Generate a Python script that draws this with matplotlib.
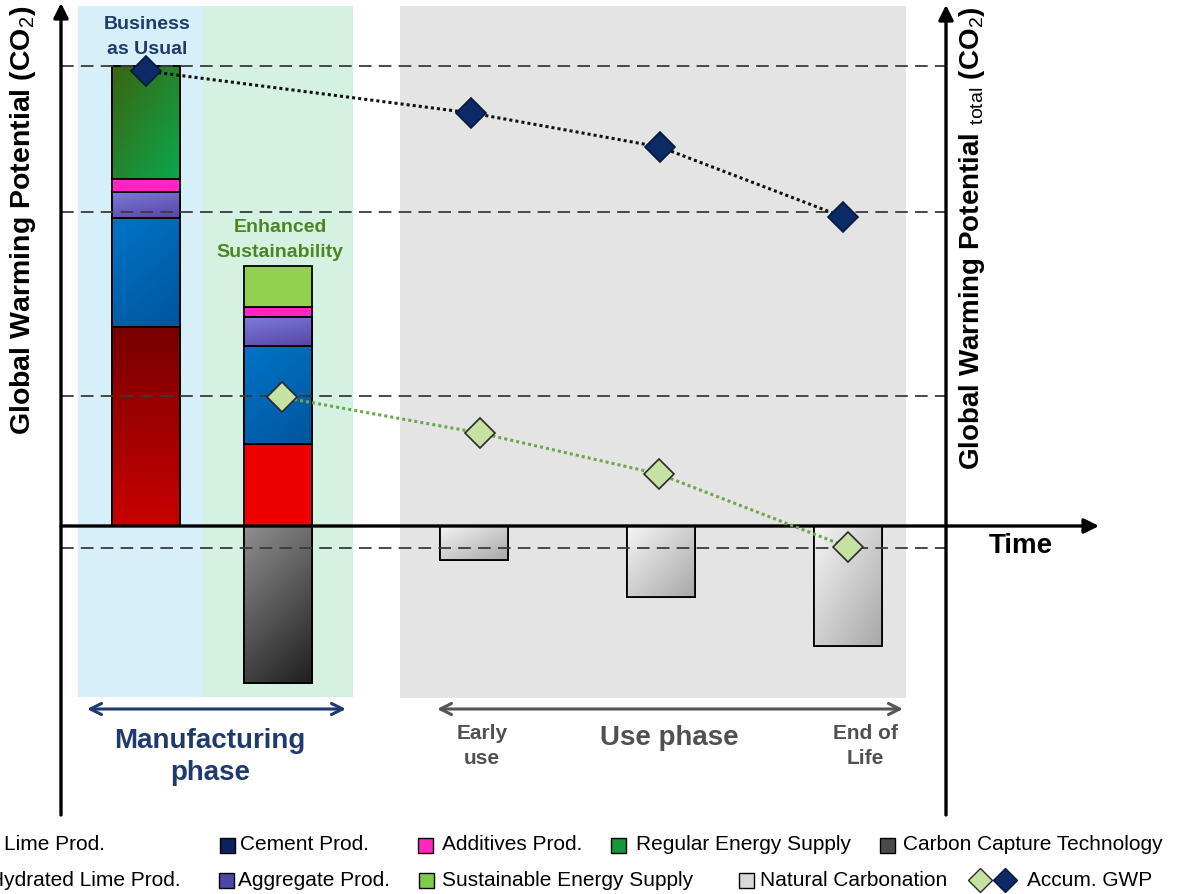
import numpy as np
import matplotlib.pyplot as plt
from matplotlib.colors import to_rgb
from matplotlib.patches import Rectangle
from matplotlib.transforms import Affine2D

plt.rcParams['font.family'] = ['Liberation Sans', 'DejaVu Sans']
plt.rcParams['mathtext.fontset'] = 'custom'
plt.rcParams['mathtext.rm'] = 'Liberation Sans'
plt.rcParams['mathtext.bf'] = 'Liberation Sans:bold'

# GWP contributions (relative units, business-as-usual total = 100)
bau_labels = ["Lime Prod.", "Cement Prod.", "Aggregate Prod.", "Additives Prod.", "Regular Energy Supply"]
bau_values = [43.2, 23.7, 5.7, 2.8, 24.6]
es_labels = ["Hydrated Lime Prod.", "Cement Prod.", "Aggregate Prod.", "Additives Prod.", "Sustainable Energy Supply"]
es_values = [17.8, 21.3, 6.3, 2.2, 8.9]
capture_value = -34.1
carbonation_stages = ["Early use", "Mid use", "End of Life"]
carbonation_values = [-7.4, -15.4, -26.1]
accum_bau = [98.9, 89.8, 82.4, 67.2]
accum_es = [28.0, 20.2, 11.3, -4.6]
reference_levels = [100.0, 68.3, 28.3, -4.8]

W, H = 1193, 894
Y0 = 526      # pixel row of the time axis
PX = 4.6      # pixels per GWP unit

fig = plt.figure(figsize=(W / 100, H / 100), dpi=100)
ax = fig.add_axes([0, 0, 1, 1])
ax.axis('off')
# top-left pixel coordinates for annotations and layout
pix = Affine2D().scale(1 / W, -1 / H).translate(0, 1) + fig.transFigure

# phase backgrounds
ax.add_patch(Rectangle((78, 6), 125, 691, transform=pix, fc='#d6eff9', ec='none', zorder=0))
ax.add_patch(Rectangle((203, 6), 150, 691, transform=pix, fc='#d5f1e1', ec='none', zorder=0))
ax.add_patch(Rectangle((400, 6), 506, 692, transform=pix, fc='#e4e4e4', ec='none', zorder=0))


def shade(bar, c_top, c_bottom, tilt=0.35):
    """Overlay a gradient on a bar and redraw its outline."""
    x0, y0 = bar.get_x(), bar.get_y()
    w, h = bar.get_width(), bar.get_height()
    u, v = np.meshgrid(np.linspace(0, 1, 60), np.linspace(0, 1, 60))
    t = tilt * u + (1 - tilt) * v
    c0, c1 = np.array(to_rgb(c_top)), np.array(to_rgb(c_bottom))
    img = c0 + t[..., None] * (c1 - c0)
    ax.imshow(img, extent=(x0, x0 + w, min(y0, y0 + h), max(y0, y0 + h)),
              origin='upper', aspect='auto', interpolation='bilinear', zorder=2.1)
    ax.add_patch(Rectangle((x0, y0), w, h, fill=False, ec='black', lw=1.3, zorder=2.2))


bar_w = 68
x_bau, x_es = 146, 278
carb_x = [474, 661, 848]

bau_colors = ['#a00000', '#0068b8', '#6a60c0', '#ff25c0', '#1e8a30']
es_colors = ['#ee0000', '#0068b8', '#6a60c0', '#ff25c0', '#92d050']
bau_shades = [('#780000', '#c80000', 0.0), ('#0074c8', '#00559c', 0.35),
              ('#7c7cd8', '#5844a6', 0.3), None, ('#3b6410', '#0aa84c', 0.5)]
es_shades = [None, ('#0074c8', '#00559c', 0.35), ('#7c7cd8', '#5844a6', 0.3), None, None]

bau_bottoms = np.concatenate([[0], np.cumsum(bau_values)[:-1]])
bau_bars = ax.bar([x_bau] * len(bau_values), bau_values, bottom=bau_bottoms, width=bar_w,
                  color=bau_colors, edgecolor='black', lw=1.3, zorder=2)
es_bottoms = np.concatenate([[0], np.cumsum(es_values)[:-1]])
es_bars = ax.bar([x_es] * len(es_values), es_values, bottom=es_bottoms, width=bar_w,
                 color=es_colors, edgecolor='black', lw=1.3, zorder=2)
for bars, shades in ((bau_bars, bau_shades), (es_bars, es_shades)):
    for bar, sh in zip(bars, shades):
        if sh:
            shade(bar, *sh)

cap_bar = ax.bar([x_es], [capture_value], width=bar_w, color='#555555',
                 edgecolor='black', lw=1.3, zorder=2)
shade(cap_bar[0], '#8f8f8f', '#1f1f1f', 0.3)

carb_bars = ax.bar(carb_x, carbonation_values, width=bar_w, color='#d0d0d0',
                   edgecolor='black', lw=1.3, zorder=2)
for bar in carb_bars:
    shade(bar, '#f5f5f5', '#a8a8a8', 0.5)

# reference levels between the two axes
ax.hlines(reference_levels, 61, 946, colors='#3a3a3a', linestyles=(0, (7, 4)), lw=1.3, zorder=3)

# axes drawn as arrows
head = dict(arrowstyle='-|>', color='black', lw=2.4, mutation_scale=22, shrinkA=0, shrinkB=0)
for start, end in (((61, 815), (61, 3)), ((946, 815), (946, 5)), ((61, Y0), (1099, Y0))):
    ax.annotate('', xy=end, xytext=start, xycoords=pix, textcoords=pix,
                arrowprops=head, zorder=4, annotation_clip=False)

# accumulated GWP over time
bau_x = [146, 471, 660, 843]
es_x = [282, 480, 659, 848]
ax.plot(bau_x, accum_bau, ls=(0, (1, 1)), lw=2.2, color='#111111', zorder=5,
        marker='D', ms=15, mfc='#0c2a66', mec='#08183a', mew=1.2)
ax.plot(es_x, accum_es, ls=(0, (1, 1)), lw=2.2, color='#6aa84f', zorder=5,
        marker='D', ms=15, mfc='#c6e2a2', mec='#2a2a2a', mew=1.2)

# phase arrows
for (xa, xb), col in (((87, 346), '#1f3a6e'), ((437, 903), '#555555')):
    ax.annotate('', xy=(xb, 709), xytext=(xa, 709), xycoords=pix, textcoords=pix,
                arrowprops=dict(arrowstyle='<->', color=col, lw=2.2, mutation_scale=20,
                                shrinkA=0, shrinkB=0), annotation_clip=False)

navy = '#1f3a6e'
grey = '#505050'
ax.text(147, 37, 'Business\nas Usual', transform=pix, ha='center', va='center',
        fontsize=14, fontweight='bold', color=navy, linespacing=1.55)
ax.text(280, 240, 'Enhanced\nSustainability', transform=pix, ha='center', va='center',
        fontsize=14, fontweight='bold', color='#4e8421', linespacing=1.55)
ax.text(210, 757, 'Manufacturing\nphase', transform=pix, ha='center', va='center',
        fontsize=20, fontweight='bold', color=navy, linespacing=1.3)
ax.text(669, 738, 'Use phase', transform=pix, ha='center', va='center',
        fontsize=20, fontweight='bold', color=grey)
ax.text(482, 746, 'Early\nuse', transform=pix, ha='center', va='center',
        fontsize=15, fontweight='bold', color=grey, linespacing=1.45)
ax.text(865, 746, 'End of\nLife', transform=pix, ha='center', va='center',
        fontsize=15, fontweight='bold', color=grey, linespacing=1.45)
ax.text(1021, 546, 'Time', transform=pix, ha='center', va='center',
        fontsize=20, fontweight='bold')
ax.text(23, 220, r'Global Warming Potential (CO$_2$)', transform=pix, rotation=90,
        ha='center', va='center', fontsize=20.5, fontweight='bold')
ax.text(972, 238, r'Global Warming Potential $_{\mathrm{total}}$ (CO$_2$)', transform=pix,
        rotation=90, ha='center', va='center', fontsize=20, fontweight='bold')

# legend
legend_rows = [
    (845, [("Lime Prod.", '#a00000', -14, 4), ("Cement Prod.", '#0a2260', 227, 240),
           ("Additives Prod.", '#ff25c0', 425, 442), ("Regular Energy Supply", '#15963a', 618, 636),
           ("Carbon Capture Technology", '#4a4a4a', 887, 903)]),
    (880, [("Hydrated Lime Prod.", '#ee0000', -30, -11), ("Aggregate Prod.", '#4c46aa', 226, 238),
           ("Sustainable Energy Supply", '#7fcc4c', 426, 442), ("Natural Carbonation", '#d8d8d8', 746, 760)]),
]
for y, items in legend_rows:
    for label, col, mx, tx in items:
        ax.add_patch(Rectangle((mx - 7.5, y - 7.5), 15, 15, transform=pix, fc=col,
                               ec='black', lw=1.0, clip_on=False))
        ax.text(tx, y, label, transform=pix, va='center', ha='left', fontsize=15)
ax.plot([980], [880], transform=pix, marker='D', ms=12, mfc='#c6e2a2', mec='#2a2a2a', mew=1, clip_on=False)
ax.plot([1005], [880], transform=pix, marker='D', ms=12, mfc='#0c2a66', mec='#08183a', mew=1, clip_on=False)
ax.text(1027, 880, 'Accum. GWP', transform=pix, va='center', ha='left', fontsize=15)

ax.set_xlim(0, W)
ax.set_ylim(-(H - Y0) / PX, Y0 / PX)
fig.savefig('out.png', dpi=100)
